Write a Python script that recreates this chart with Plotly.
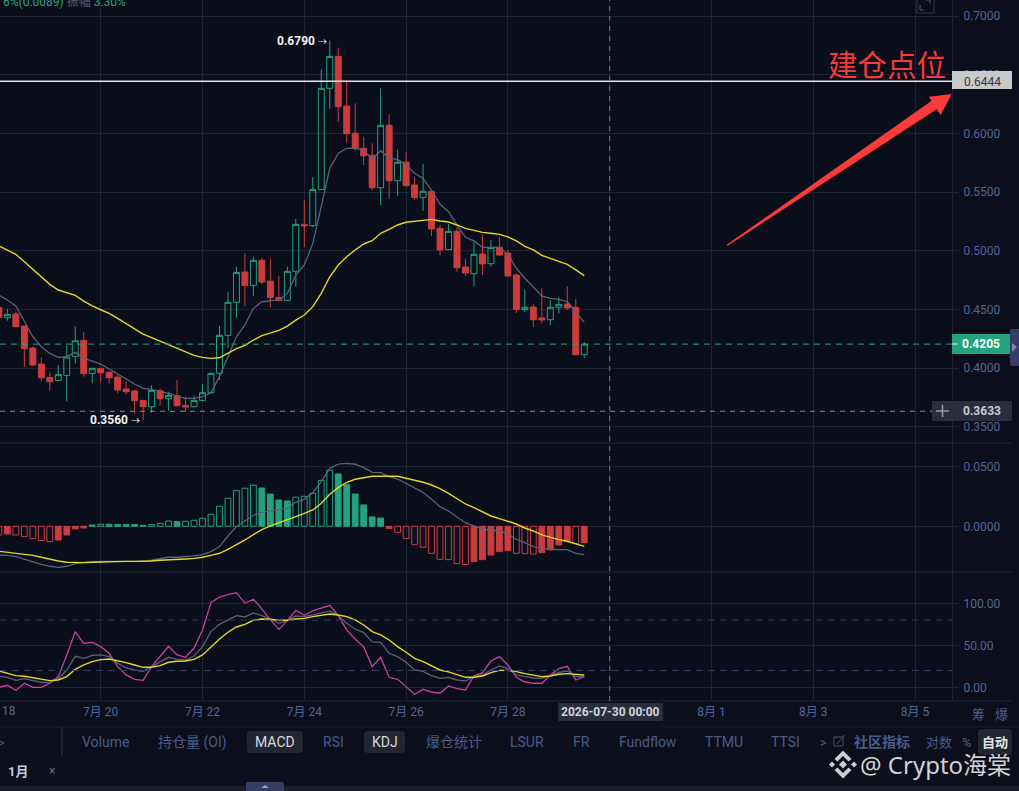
import pandas as pd
import plotly.graph_objects as go
from plotly.subplots import make_subplots

WIDTH = 1019
HEIGHT = 791

# 4h candles
opens = [.4518, .4430, .4461, .4359, .4172, .4035, .3922, .3896, .3939, .4101,
         .4237, .3956, .3999, .3965, .3925, .3823, .3806, .3726, .3672, .3808,
         .3740, .3766, .3683, .3672, .3726, .3791, .3956, .4280, .4561, .4819,
         .4706, .4919, .4742, .4603, .4578, .4825, .5225, .5214, .5523, .6384,
         .6656, .6233, .6001, .5873, .5813, .5538, .6069, .5597, .5754, .5561,
         .5453, .5507, .5191, .5010, .5166, .4862, .4805, .4973, .4890, .5030,
         .4981, .4794, .4499, .4521, .4428, .4413, .4519, .4547, .4519, .4115]
highs = [.4524, .4504, .4481, .4359, .4183, .4092, .3965, .4027, .4192, .4356,
         .4305, .4004, .4002, .3976, .3942, .3885, .3820, .3729, .3857, .3828,
         .3800, .3899, .3752, .3766, .3865, .3962, .4359, .4649, .4865, .4978,
         .4950, .4936, .4936, .4785, .4865, .5273, .5432, .5628, .6545, .6790,
         .6730, .6455, .6256, .5972, .5915, .6384, .6165, .5864, .5839, .5623,
         .5739, .5512, .5220, .5228, .5200, .4933, .5081, .5140, .5092, .5115,
         .5007, .4808, .4666, .4544, .4680, .4581, .4604, .4695, .4590, .4223]
lows = [.4425, .4405, .4350, .4013, .4018, .3885, .3808, .3894, .3717, .4041,
        .3928, .3871, .3885, .3871, .3786, .3777, .3615, .3560, .3621, .3681,
        .3635, .3672, .3629, .3666, .3720, .3786, .3899, .4169, .4430, .4532,
        .4612, .4717, .4518, .4566, .4572, .4694, .5032, .5200, .5518, .6210,
        .6100, .5921, .5853, .5731, .5518, .5390, .5441, .5470, .5546, .5433,
        .5339, .5126, .4961, .5007, .4822, .4785, .4695, .4794, .4865, .4956,
        .4780, .4470, .4476, .4351, .4382, .4368, .4467, .4496, .4110, .4087]
closes = [.4433, .4459, .4353, .4166, .4027, .3919, .3885, .3945, .4095, .4234,
          .3953, .3999, .3962, .3919, .3814, .3800, .3723, .3672, .3811, .3740,
          .3769, .3681, .3669, .3726, .3791, .3956, .4280, .4561, .4816, .4703,
          .4919, .4734, .4601, .4578, .4825, .5225, .5211, .5523, .6384, .6656,
          .6227, .5998, .5873, .5810, .5538, .6069, .5597, .5754, .5555, .5453,
          .5507, .5186, .5007, .5166, .4856, .4811, .4970, .4888, .5027, .4964,
          .4785, .4499, .4519, .4413, .4411, .4519, .4544, .4513, .4115, .4205]
ma_fast = [.4623, .4581, .4530, .4396, .4268, .4183, .4126, .4092, .4098, .4135,
           .4084, .4061, .4035, .3993, .3953, .3908, .3865, .3828, .3820, .3806,
           .3786, .3763, .3743, .3743, .3757, .3791, .3928, .4098, .4268, .4368,
           .4510, .4566, .4575, .4581, .4637, .4794, .4879, .5063, .5376, .5702,
           .5830, .5873, .5873, .5859, .5779, .5853, .5788, .5779, .5731, .5660,
           .5617, .5518, .5396, .5333, .5220, .5115, .5084, .5030, .5030, .5030,
           .4970, .4851, .4766, .4686, .4615, .4595, .4587, .4567, .4482, .4391]
ma_slow = [.5041, .5007, .4970, .4907, .4842, .4774, .4714, .4666, .4643, .4620,
           .4572, .4530, .4498, .4467, .4424, .4382, .4334, .4291, .4260, .4229,
           .4200, .4166, .4135, .4109, .4092, .4084, .4089, .4126, .4166, .4195,
           .4240, .4277, .4302, .4322, .4359, .4410, .4453, .4524, .4637, .4779,
           .4879, .4950, .5007, .5058, .5086, .5149, .5183, .5220, .5243, .5251,
           .5265, .5268, .5254, .5245, .5220, .5191, .5174, .5157, .5149, .5140,
           .5118, .5084, .5038, .5007, .4961, .4936, .4910, .4885, .4837, .4788]

macd_hist = [-.0072, -.0064, -.0072, -.0086, -.0103, -.0119, -.0128, -.0114, -.0072, -.0022,
             -.0014, .0011, .0017, .0017, .0014, .0014, .0014, .0008, .0014, .0025,
             .0044, .0039, .0042, .0050, .0067, .0100, .0167, .0233, .0297, .0317,
             .0342, .0319, .0269, .0219, .0211, .0242, .0250, .0275, .0383, .0467,
             .0436, .0350, .0269, .0178, .0078, .0069, -.0019, -.0050, -.0103, -.0153,
             -.0175, -.0225, -.0275, -.0278, -.0311, -.0319, -.0294, -.0278, -.0239, -.0211,
             -.0203, -.0225, -.0228, -.0231, -.0219, -.0197, -.0156, -.0128, -.0144, -.0136]
macd_dif = [-.0239, -.0242, -.0253, -.0275, -.0294, -.0317, -.0333, -.0342, -.0333, -.0311,
            -.0300, -.0294, -.0292, -.0292, -.0292, -.0292, -.0292, -.0292, -.0283, -.0272,
            -.0258, -.0258, -.0253, -.0247, -.0236, -.0211, -.0169, -.0081, -.0003, .0047,
            .0092, .0117, .0128, .0136, .0150, .0200, .0225, .0281, .0372, .0483,
            .0519, .0525, .0517, .0489, .0450, .0447, .0414, .0394, .0358, .0317,
            .0283, .0225, .0164, .0128, .0081, .0028, .0003, -.0022, -.0033, -.0039,
            -.0064, -.0108, -.0136, -.0169, -.0186, -.0192, -.0194, -.0194, -.0225, -.0236]
macd_dea = [-.0208, -.0217, -.0228, -.0233, -.0242, -.0258, -.0275, -.0289, -.0300, -.0303,
            -.0303, -.0300, -.0297, -.0294, -.0292, -.0292, -.0292, -.0292, -.0289, -.0283,
            -.0281, -.0278, -.0272, -.0267, -.0258, -.0242, -.0225, -.0192, -.0156, -.0114,
            -.0069, -.0028, .0003, .0028, .0050, .0081, .0108, .0136, .0192, .0267,
            .0322, .0367, .0392, .0406, .0417, .0417, .0417, .0417, .0400, .0386,
            .0367, .0344, .0314, .0275, .0233, .0186, .0156, .0122, .0086, .0064,
            .0042, .0019, -.0014, -.0039, -.0072, -.0094, -.0111, -.0125, -.0147, -.0167]

kdj_k = [13.1, 11.9, 8.3, 10.3, 7.9, 6.0, 5.6, 10.3, 20.6, 36.9,
         34.5, 38.1, 38.5, 36.5, 28.6, 23.0, 20.6, 19.0, 24.6, 30.6,
         35.7, 33.3, 32.5, 37.3, 48.4, 66.3, 75.0, 80.2, 85.3, 83.7,
         88.5, 85.3, 81.3, 76.2, 79.4, 84.9, 84.1, 86.1, 88.1, 90.9,
         85.3, 76.2, 69.4, 65.1, 54.0, 53.6, 40.5, 36.5, 29.8, 20.6,
         19.0, 13.9, 10.7, 11.9, 8.7, 7.5, 12.7, 14.7, 20.6, 25.4,
         22.6, 14.7, 12.7, 11.1, 10.7, 14.7, 17.9, 19.4, 12.7, 12.7]
kdj_d = [19.4, 16.7, 13.9, 13.1, 11.1, 9.5, 7.9, 8.7, 12.7, 21.4,
         26.6, 30.6, 32.9, 33.7, 31.7, 29.4, 26.6, 23.8, 23.8, 25.8,
         29.8, 31.0, 31.3, 33.3, 38.5, 48.4, 57.5, 65.5, 71.8, 75.0,
         79.8, 81.3, 81.0, 79.8, 79.8, 81.3, 82.1, 84.1, 85.3, 87.3,
         86.1, 84.1, 80.2, 74.2, 66.3, 62.3, 56.3, 48.4, 41.7, 34.5,
         30.6, 25.8, 20.6, 18.3, 15.1, 11.9, 11.9, 13.5, 17.5, 20.2,
         20.2, 18.7, 16.3, 14.7, 12.7, 13.5, 15.5, 16.3, 15.5, 14.7]
kdj_j = [0.0, 2.4, -3.6, 4.8, 0.0, 0.0, 4.8, 12.7, 38.5, 66.3,
         52.4, 53.6, 48.4, 40.5, 24.6, 14.7, 9.5, 8.3, 24.6, 36.5,
         48.8, 38.5, 35.7, 46.4, 68.3, 100.8, 107.5, 110.3, 112.7, 100.0,
         104.8, 93.3, 80.2, 69.0, 79.4, 91.7, 85.7, 90.9, 94.0, 97.6,
         85.3, 68.3, 57.1, 48.4, 24.6, 35.7, 11.9, 9.5, 0.8, -8.3,
         -2.4, -5.6, -7.1, 1.6, -1.6, -3.2, 13.5, 17.5, 31.3, 36.5,
         26.6, 11.9, 6.3, 4.8, 4.8, 14.7, 22.2, 25.0, 8.7, 12.7]

tick_dates = ["2026-07-20", "2026-07-22", "2026-07-24", "2026-07-26", "2026-07-28",
              "2026-07-30", "2026-08-01", "2026-08-03", "2026-08-05"]
tick_labels = ["7月 20", "7月 22", "7月 24", "7月 26", "7月 28", "7月 30", "8月 1", "8月 3", "8月 5"]
price_ticks = [.70, .65, .60, .55, .50, .45, .40, .35]
macd_ticks = [.05, 0]
kdj_ticks = [100, 50, 0]
kdj_dashed = [80, 20]

entry_price = .6444
last_price = .4205
cursor_price = .3633
cursor_time = "2026-07-30 00:00"

BG = "#0a0e1a"
PANEL_BG = "#0c0f1b"
GRID = "#1e2236"
TICK_TEXT = "#50669a"
MUTED = "#4a5b8a"
UP = "#22a37e"
DOWN = "#cc3c3e"
GREY_LINE = "#5d6178"
YELLOW = "#e4d823"
MAGENTA = "#cc3fa0"
FONT = "Roboto, 'Noto Sans CJK SC', sans-serif"

times = pd.date_range("2026-07-18 00:00", periods=len(opens), freq="4h")
PLOT_RIGHT = 952
PX_PER_DAY = 50.9
x_start = pd.Timestamp("2026-07-18 00:00") + pd.Timedelta(days=1.1 / PX_PER_DAY)
x_end = x_start + pd.Timedelta(days=PLOT_RIGHT / PX_PER_DAY)


def X(px):
    return px / WIDTH


def Y(py):
    return 1 - py / HEIGHT


def poly(points):
    return "M " + " L ".join(f"{X(a):.5f} {Y(b):.5f}" for a, b in points) + " Z"


def rounded(x0, y0, x1, y1, r=4):
    return (f"M {X(x0 + r):.5f} {Y(y0):.5f} L {X(x1 - r):.5f} {Y(y0):.5f} "
            f"Q {X(x1):.5f} {Y(y0):.5f} {X(x1):.5f} {Y(y0 + r):.5f} "
            f"L {X(x1):.5f} {Y(y1 - r):.5f} Q {X(x1):.5f} {Y(y1):.5f} {X(x1 - r):.5f} {Y(y1):.5f} "
            f"L {X(x0 + r):.5f} {Y(y1):.5f} Q {X(x0):.5f} {Y(y1):.5f} {X(x0):.5f} {Y(y1 - r):.5f} "
            f"L {X(x0):.5f} {Y(y0 + r):.5f} Q {X(x0):.5f} {Y(y0):.5f} {X(x0 + r):.5f} {Y(y0):.5f} Z")


fig = make_subplots(rows=3, cols=1, shared_xaxes=True, vertical_spacing=0)

fig.add_trace(go.Candlestick(
    x=times, open=opens, high=highs, low=lows, close=closes,
    increasing=dict(line=dict(color=UP, width=1), fillcolor="rgba(0,0,0,0)"),
    decreasing=dict(line=dict(color=DOWN, width=1), fillcolor=DOWN),
    whiskerwidth=0,
), row=1, col=1)
fig.add_trace(go.Scatter(x=times, y=ma_fast, mode="lines", line=dict(color=GREY_LINE, width=1.3)), row=1, col=1)
fig.add_trace(go.Scatter(x=times, y=ma_slow, mode="lines", line=dict(color=YELLOW, width=1.4)), row=1, col=1)

# hollow while the histogram grows away from zero, filled while it shrinks
line_colors = [UP if v >= 0 else DOWN for v in macd_hist]
fill_colors = []
for i, v in enumerate(macd_hist):
    growing = i == 0 or abs(v) > abs(macd_hist[i - 1])
    fill_colors.append("rgba(0,0,0,0)" if growing else line_colors[i])
fig.add_trace(go.Bar(
    x=times, y=macd_hist, width=4 * 3600 * 1000 * 0.68,
    marker=dict(color=fill_colors, line=dict(color=line_colors, width=1)),
), row=2, col=1)
fig.add_trace(go.Scatter(x=times, y=macd_dif, mode="lines", line=dict(color=GREY_LINE, width=1.3)), row=2, col=1)
fig.add_trace(go.Scatter(x=times, y=macd_dea, mode="lines", line=dict(color=YELLOW, width=1.4)), row=2, col=1)

fig.add_trace(go.Scatter(x=times, y=kdj_j, mode="lines", line=dict(color=MAGENTA, width=1.3)), row=3, col=1)
fig.add_trace(go.Scatter(x=times, y=kdj_k, mode="lines", line=dict(color=GREY_LINE, width=1.3)), row=3, col=1)
fig.add_trace(go.Scatter(x=times, y=kdj_d, mode="lines", line=dict(color=YELLOW, width=1.4)), row=3, col=1)

x_common = dict(
    type="date", range=[x_start, x_end], domain=[0, X(PLOT_RIGHT)],
    tickmode="array", tickvals=tick_dates, ticktext=tick_labels,
    showgrid=True, gridcolor=GRID, gridwidth=1, zeroline=False, showline=False, ticks="",
    ticklabelstandoff=2,
    tickfont=dict(family=FONT, size=12, color=TICK_TEXT),
)
fig.update_xaxes(**x_common)
fig.update_layout(xaxis_rangeslider_visible=False)

y_common = dict(
    side="right", tickmode="array", showgrid=True, gridcolor=GRID, gridwidth=1,
    zeroline=False, showline=True, linecolor=GRID, ticks="outside", ticklen=6, tickcolor=GRID,
    ticklabelstandoff=2,
    tickfont=dict(family=FONT, size=12, color=TICK_TEXT),
)
fig.update_yaxes(**y_common)
fig.update_layout(
    yaxis=dict(domain=[Y(443), Y(0)], range=[.71363 - 443 / 1174, .71363], tickvals=price_ticks, tickformat=".4f"),
    yaxis2=dict(domain=[Y(572), Y(443)], range=[(526.3 - 572) / 1200, (526.3 - 443) / 1200], tickvals=macd_ticks, tickformat=".4f"),
    yaxis3=dict(domain=[Y(701), Y(572)], range=[(687.3 - 701) / .84, (687.3 - 572) / .84], tickvals=kdj_ticks, tickformat=".2f"),
    width=WIDTH, height=HEIGHT, margin=dict(l=0, r=0, t=0, b=0), autosize=False,
    paper_bgcolor=PANEL_BG, plot_bgcolor=BG, showlegend=False, barmode="overlay",
    boxmode="group", boxgap=0.3, boxgroupgap=0,
    font=dict(family=FONT), hovermode=False,
)

shapes = []


def paper_shape(kind, **kw):
    shapes.append(dict(type=kind, xref="paper", yref="paper", **kw))


def box(x0, y0, x1, y1, color):
    paper_shape("rect", x0=X(x0), x1=X(x1), y0=Y(y0), y1=Y(y1), fillcolor=color, line=dict(width=0))


def hline(x0, x1, py, color, width=1):
    paper_shape("line", x0=X(x0), x1=X(x1), y0=Y(py), y1=Y(py), line=dict(color=color, width=width))


def vline(px, y0, y1, color, width=1):
    paper_shape("line", x0=X(px), x1=X(px), y0=Y(y0), y1=Y(y1), line=dict(color=color, width=width))


def fill_path(path, color):
    shapes.append(dict(type="path", xref="paper", yref="paper", path=path, fillcolor=color, line=dict(width=0)))


# panel dividers and toolbar frame
for py in [443, 572, 701]:
    hline(0, 1012, py, GRID)
hline(0, 1019, 727, "#171a28")
vline(62, 727, 756, "#2a3150")
box(0, 786, 1019, 791, "#1b1e2b")
fill_path(rounded(246, 782, 284, 795, 2), "#383e63")
fill_path(poly([(261, 788), (265, 785), (269, 788)]), "#9aa0bd")
fill_path(rounded(1010, 329, 1023, 366, 2), "#383e63")
fill_path(poly([(1012, 343), (1017, 347), (1012, 352)]), "#7f86a8")
fill_path(rounded(247, 731, 303, 753), "#23262f")
fill_path(rounded(364, 731, 405, 753), "#23262f")
fill_path(rounded(978, 729, 1012, 755), "#23262f")

# reference lines tied to the axes
for level in kdj_dashed:
    shapes.append(dict(type="line", xref="paper", yref="y3", x0=0, x1=X(PLOT_RIGHT), y0=level, y1=level,
                       line=dict(color="#33385a", width=1, dash="7px,5px")))
shapes.append(dict(type="line", xref="paper", yref="y", x0=0, x1=X(PLOT_RIGHT), y0=last_price, y1=last_price,
                   line=dict(color=UP, width=1, dash="6px,5px")))
shapes.append(dict(type="line", xref="paper", yref="y", x0=0, x1=X(932), y0=cursor_price, y1=cursor_price,
                   line=dict(color="#8a8d99", width=1, dash="5px,5px")))
shapes.append(dict(type="line", xref="paper", yref="y", x0=0, x1=X(PLOT_RIGHT), y0=entry_price, y1=entry_price,
                   line=dict(color="#e6e6e6", width=1.5)))
shapes.append(dict(type="line", xref="x", yref="paper", x0=cursor_time, x1=cursor_time, y0=Y(701), y1=Y(0),
                   line=dict(color="#6f7280", width=1, dash="5px,5px")))

# price and time flags
box(952, 71, 1012, 89, "#c9c9c9")
box(952, 334, 1010, 354, UP)
hline(952, 958, 344, "#f0f0f0")
box(932, 401, 1012, 421, "#2a2e3b")
hline(936, 949, 411, "#9a9da8", 1.5)
vline(942.5, 405, 417, "#9a9da8", 1.5)
box(558, 703, 663, 721, "#2a2e3b")

# hand drawn arrow
fill_path(poly([(726.7, 244.7), (931.7, 100.7), (928.7, 96.7), (951.7, 94),
                (940.7, 115), (936.7, 109.3), (727.7, 245.7)]), "#fb3a3a")

# expand icon at the top
paper_shape("rect", x0=X(917), x1=X(934), y0=Y(-4), y1=Y(13), line=dict(color="#2c3350", width=1))
for a, b, c, d in [(920, 5, 920, 10), (920, 10, 924, 10), (930, 0, 930, 4), (926, 0, 930, 0)]:
    paper_shape("line", x0=X(a), x1=X(c), y0=Y(b), y1=Y(d), line=dict(color="#4a5170", width=1))

# edit icon
paper_shape("rect", x0=X(834), x1=X(843), y0=Y(737), y1=Y(746), line=dict(color="#4a5170", width=1))
paper_shape("line", x0=X(837), x1=X(845), y0=Y(744), y1=Y(735), line=dict(color="#4a5170", width=1))

# Binance style logo in the watermark
LOGO = "#cfcfcf"
cx, cy = 843, 764.5
for dx, r in [(0, 4), (-11, 3), (11, 3)]:
    fill_path(poly([(cx + dx - r, cy), (cx + dx, cy - r), (cx + dx + r, cy), (cx + dx, cy + r)]), LOGO)
fill_path(poly([(cx, cy - 14), (cx + 8.5, cy - 5.5), (cx + 5.5, cy - 3), (cx, cy - 8.5), (cx - 5.5, cy - 3), (cx - 8.5, cy - 5.5)]), LOGO)
fill_path(poly([(cx, cy + 14), (cx + 8.5, cy + 5.5), (cx + 5.5, cy + 3), (cx, cy + 8.5), (cx - 5.5, cy + 3), (cx - 8.5, cy + 5.5)]), LOGO)

fig.update_layout(shapes=shapes)


def text(px, py, s, size=12, color=TICK_TEXT, anchor="center", family=FONT):
    fig.add_annotation(x=X(px), y=Y(py), xref="paper", yref="paper", text=s, showarrow=False,
                       xanchor=anchor, yanchor="middle", font=dict(family=family, size=size, color=color))


# extreme labels sit on the candles they describe
high_i = highs.index(max(highs))
low_i = lows.index(min(lows))
for i, price in [(high_i, max(highs)), (low_i, min(lows))]:
    fig.add_annotation(x=times[i], y=price, xref="x", yref="y",
                       text=f"<b>{price:.4f}</b> <span style='font-size:9px'>→</span>", showarrow=False,
                       xanchor="right", xshift=-1, font=dict(family=FONT, size=12, color="#f2f2f2"))

text(1, 2, f"<span style='color:{UP}'>6%(0.0089)</span> <span style='color:#55596e'>振幅</span> <span style='color:{UP}'>3.30%</span>",
     12, UP, "left")
text(887, 63, "建仓点位", 29.5, "#f63a3a", family="'Noto Sans CJK SC'")
text(982, 82, f"{entry_price:.4f}", 12, "#33363f")
text(981, 344, f"<b>{last_price:.4f}</b>", 12, "#ffffff")
text(982, 411, f"<b>{cursor_price:.4f}</b>", 12, "#c8cad2")
text(610, 712, f"<b>{cursor_time}</b>", 12, "#d0d2da")
text(9, 711, "18", 12)
text(978.5, 714, "筹", 13, MUTED)
text(1001, 714, "爆", 13, MUTED)
text(1, 742, "&gt;", 13, MUTED)

for label, px in [("Volume", 105.5), ("持仓量 (OI)", 192.5), ("RSI", 333.5), ("爆仓统计", 453.5),
                  ("LSUR", 526.5), ("FR", 581), ("Fundflow", 647.5), ("TTMU", 724), ("TTSI", 785.5)]:
    text(px, 742, label, 14, MUTED)
for label, px in [("对数", 939), ("%", 967)]:
    text(px, 742, label, 13, MUTED)
text(275, 742, "MACD", 14, "#d5d8e2")
text(384.5, 742, "KDJ", 14, "#d5d8e2")
text(823, 742, "&gt;", 13, MUTED)
text(882, 742, "<b>社区指标</b>", 14, MUTED)
text(995, 742, "<b>自动</b>", 13, "#e2e4ea")
text(17.5, 771, "<b>1月</b>", 13, "#c9ccd6")
text(52, 771, "×", 12, "#6a6e80")
text(1013, 764, "@ Crypto海棠", 24, "#d2d2d2", "right", family="'Noto Sans', 'Noto Sans CJK SC'")

# the page has a default body margin, the picture runs edge to edge
fig.write_html("out.html", config={"displayModeBar": False},
               post_script="document.body.style.margin='0';document.body.style.overflow='hidden';")
